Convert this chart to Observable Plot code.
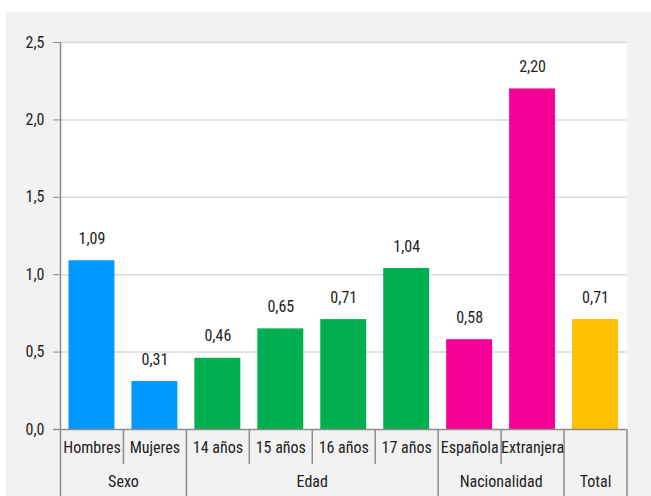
<!DOCTYPE html>
<html>
<head>
<meta charset="utf-8">
<script src="https://cdn.jsdelivr.net/npm/d3@7"></script>
<script src="https://cdn.jsdelivr.net/npm/@observablehq/plot@0.6"></script>
<style>
  html, body { margin: 0; padding: 0; background: #ffffff; }
  #chart { position: absolute; left: 6px; top: 12px; width: 645px; height: 484px; background: #f2f2f2; }
  #chart svg { background: #f2f2f2; color: #8c8c8c; }
  #chart svg text { fill: #222222; }
</style>
</head>
<body>
<div id="chart"></div>
<script>
// Data
const categories = ["Hombres", "Mujeres", "14 años", "15 años", "16 años", "17 años", "Española", "Extranjera", ""];
const groups = ["Sexo", "Sexo", "Edad", "Edad", "Edad", "Edad", "Nacionalidad", "Nacionalidad", "Total"];
const values = [1.09, 0.31, 0.46, 0.65, 0.71, 1.04, 0.58, 2.20, 0.71];
const colors = ["#0099ff", "#0099ff", "#00b050", "#00b050", "#00b050", "#00b050", "#f70096", "#f70096", "#ffc000"];
const yTicks = [0, 0.5, 1, 1.5, 2, 2.5];

const comma = (d, p) => d3.format("." + p + "f")(d).replace(".", ",");

const table = categories.map((c, i) => ({i, cat: c, group: groups[i], value: values[i], color: colors[i]}));

// group spans
const groupNames = [...new Set(groups)];
const groupTable = groupNames.map(g => {
  const idx = groups.map((x, i) => x === g ? i : -1).filter(i => i >= 0);
  return {group: g, start: d3.min(idx), end: d3.max(idx) + 1};
});
const groupBoundaries = [...new Set(groupTable.flatMap(g => [g.start, g.end]))];
const innerBoundaries = d3.range(1, categories.length).filter(b => !groupBoundaries.includes(b));

const pad = 0.135;
const font = '"Liberation Sans Narrow", "Roboto Condensed", "DejaVu Sans Condensed", "Arial Narrow", sans-serif';

const plot = Plot.plot({
  width: 645,
  height: 484,
  marginLeft: 54,
  marginRight: 24.5,
  marginTop: 30,
  marginBottom: 67,
  style: {fontFamily: font, fontSize: "16px", background: "#f2f2f2", color: "#8c8c8c", overflow: "visible"},
  x: {domain: [0, categories.length], axis: null},
  y: {domain: [0, 2.5], ticks: yTicks, tickSize: 7, tickPadding: 9, tickFormat: d => comma(d, 1), label: null},
  marks: [
    Plot.frame({fill: "#ffffff", stroke: null}),
    Plot.ruleY(yTicks.filter(t => t > 0), {stroke: "#d9d9d9", strokeWidth: 1.5}),
    Plot.rectY(table, {x1: d => d.i + pad, x2: d => d.i + 1 - pad, y1: 0, y2: "value", fill: "color"}),
    Plot.text(table, {x: d => d.i + 0.5, y: "value", text: d => comma(d.value, 2), dy: -22, fill: "#222222"}),
    // bottom axis line
    Plot.ruleY([0], {stroke: "#8c8c8c", strokeWidth: 1.5, insetLeft: -7}),
    // y axis line extending into category area
    Plot.ruleX([0], {y1: 2.5, y2: 0, insetBottom: -67, stroke: "#8c8c8c", strokeWidth: 1.5}),
    // group separators
    Plot.ruleX(groupBoundaries.filter(b => b > 0), {y1: 0, y2: 0, insetBottom: -67, stroke: "#8c8c8c", strokeWidth: 1.5}),
    // inner separators
    Plot.ruleX(innerBoundaries, {y1: 0, y2: 0, insetBottom: -35, stroke: "#8c8c8c", strokeWidth: 1.5}),
    // category labels
    Plot.text(table, {x: d => d.i + 0.5, frameAnchor: "bottom", text: "cat", dy: 23, fill: "#222222"}),
    // group labels
    Plot.text(groupTable, {x: d => (d.start + d.end) / 2, frameAnchor: "bottom", text: "group", dy: 57, fill: "#222222"})
  ]
});
document.getElementById("chart").appendChild(plot);
</script>
</body>
</html>
